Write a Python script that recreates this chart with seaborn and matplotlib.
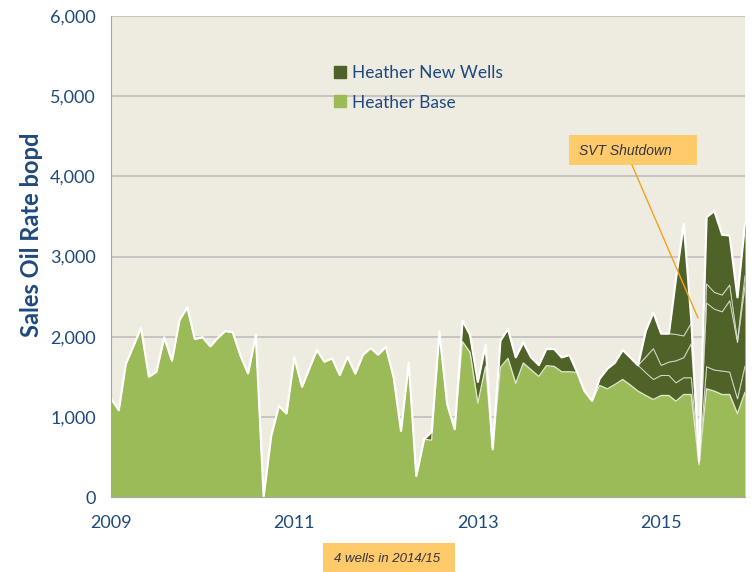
import pandas as pd
import matplotlib.pyplot as plt
import matplotlib.dates as mdates
from matplotlib.ticker import FuncFormatter
from matplotlib.lines import Line2D
from matplotlib.patches import Rectangle
import seaborn as sns

# monthly sales, Jan 2009 .. Dec 2015 (bopd)
months = pd.date_range('2009-01-01', periods=84, freq='MS')

heather_base = [1230, 1083, 1658, 1888, 2108, 1500, 1562, 1992, 1700, 2208, 2367, 1971,
                1992, 1879, 1979, 2070, 2055, 1762, 1542, 2021, 10, 762, 1137, 1042,
                1742, 1375, 1596, 1833, 1688, 1729, 1521, 1750, 1540, 1771, 1858, 1775,
                1875, 1492, 825, 1679, 262, 721, 708, 2067, 1158, 846, 1937, 1804,
                1171, 1629, 596, 1617, 1729, 1417, 1671, 1587, 1504, 1637, 1629, 1562,
                1562, 1554, 1327, 1198, 1391, 1349, 1403, 1466, 1395, 1320, 1266, 1216,
                1266, 1266, 1195, 1278, 1278, 400, 1349, 1320, 1278, 1278, 1040, 1307]

new_well_1 = [0] * 42 + [104, 0, 0, 0, 263, 220,
              266, 271, 0, 333, 367, 325, 258, 155, 142, 209, 217, 180,
              209, 0, 0, 0, 84, 251, 272, 368, 343, 322, 284, 250,
              250, 250, 229, 209, 209, 20, 276, 263, 293, 280, 184, 326]

new_well_2 = [0] * 70 + [196, 384, 126, 167, 274, 251, 426, 10, 794, 760, 739, 890, 702, 1003]
new_well_3 = [0] * 70 + [326, 452, 396, 355, 330, 271, 255, 10, 238, 209, 209, 196, 21, 125]
new_well_4 = [0] * 74 + [693, 1400, 50, 3, 835, 1015, 752, 618, 543, 648]

df = pd.DataFrame({'month': months, 'base': heather_base, 'w1': new_well_1,
                   'w2': new_well_2, 'w3': new_well_3, 'w4': new_well_4})
df['c1'] = df['base'] + df['w1']
df['c2'] = df['c1'] + df['w2']
df['c3'] = df['c2'] + df['w3']
df['total'] = df['c3'] + df['w4']

sns.set_style('white')
plt.rcParams['font.family'] = ['Lato', 'DejaVu Sans']

base_green = '#9BBB59'
dark_green = '#4F6228'
text_blue = '#1F497D'

fig = plt.figure(figsize=(7.52, 5.72), dpi=100)
ax = fig.add_axes([111 / 752, 1 - 497 / 572, (745 - 111) / 752, (497 - 16) / 572])
ax.set_facecolor('#EEEBE1')

ax.stackplot(df['month'], df['base'], df['w1'], df['w2'], df['w3'], df['w4'],
             colors=[base_green, dark_green, dark_green, dark_green, dark_green],
             linewidth=0)

# thin separators between the wells, then the white outline on top
for col in ['c3', 'c2', 'c1']:
    ax.plot(df['month'], df[col], color='#D9DCCB', lw=0.7)
ax.plot(df['month'], df['base'], color='#DDE6C8', lw=1.0)
sns.lineplot(data=df, x='month', y='total', color='white', lw=1.6, ax=ax)

ax.set_ylim(0, 6000)
ax.set_xlim(months[0], months[-1])
ax.set_yticks(range(0, 6001, 1000))
ax.yaxis.set_major_formatter(FuncFormatter(lambda v, p: f'{int(v):,}'))
ax.set_xticks([pd.Timestamp(f'{y}-01-01') for y in [2009, 2011, 2013, 2015]])
ax.xaxis.set_major_formatter(mdates.DateFormatter('%Y'))
ax.grid(axis='y', color='#BEBEBE', lw=1.2)
ax.set_axisbelow(True)
for s in ['top', 'right']:
    ax.spines[s].set_visible(False)
for s in ['left', 'bottom']:
    ax.spines[s].set_color('#A6A6A6')
ax.tick_params(axis='both', direction='out', length=5, color='#A6A6A6',
               labelsize=13, labelcolor=text_blue, pad=6)
ax.tick_params(axis='x', pad=8)
ax.set_xlabel('')
ax.set_ylabel('Sales Oil Rate bopd', fontsize=17, fontweight='bold', color=text_blue)
ax.yaxis.set_label_coords(-0.108, 0.545)

handles = [Line2D([], [], marker='s', ls='', color=dark_green, markersize=9),
           Line2D([], [], marker='s', ls='', color=base_green, markersize=9)]
fig.legend(handles, ['Heather New Wells', 'Heather Base'], loc='upper left',
           bbox_to_anchor=(317 / 752, 1 - 49 / 572), frameon=False, fontsize=12.5,
           labelcolor=text_blue, handlelength=0.8, handletextpad=0.3, labelspacing=0.8)

# annotation boxes
box_col = '#FFCA69'
fig.add_artist(Rectangle((569 / 752, 1 - 165 / 572), 128 / 752, 30 / 572,
                         transform=fig.transFigure, fc=box_col, ec='none'))
fig.text(579 / 752, 1 - 151 / 572, 'SVT Shutdown', fontsize=10, style='italic',
         family='Liberation Sans', color='#333344', va='center')
fig.add_artist(Line2D([632 / 752, 698 / 752], [1 - 165 / 572, 1 - 318 / 572],
                      transform=fig.transFigure, color='#F5A21B', lw=1))

fig.add_artist(Rectangle((323 / 752, 0), 132 / 752, 29 / 572,
                         transform=fig.transFigure, fc=box_col, ec='none'))
fig.text(334 / 752, 1 - 559 / 572, '4 wells in 2014/15', fontsize=9.5, style='italic',
         family='Liberation Sans', color='#333344', va='center')

fig.savefig('out.png', dpi=100, facecolor='white')
